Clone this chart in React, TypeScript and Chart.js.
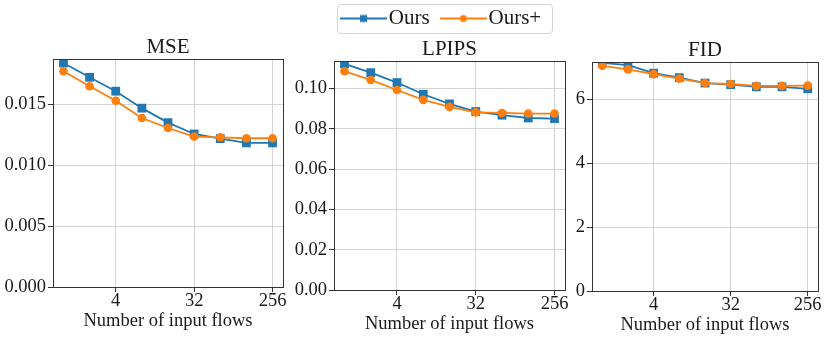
import React, { useEffect, useRef } from "react";
import { Chart, registerables } from "chart.js";

Chart.register(...registerables);

// ---------- data ----------
const flows = [1, 2, 4, 8, 16, 32, 64, 128, 256];
const xTickFlows = [4, 32, 256];
const seriesNames = ["Ours", "Ours+"];
const xLabel = "Number of input flows";

const mseOurs = [0.01837, 0.0172, 0.01606, 0.01467, 0.01348, 0.01255, 0.01217, 0.01182, 0.01182];
const mseOursPlus = [0.01769, 0.01647, 0.01527, 0.01386, 0.01304, 0.01234, 0.01228, 0.0122, 0.0122];
const mseTicks = [0, 0.005, 0.01, 0.015];

const lpipsOurs = [0.1123, 0.1079, 0.103, 0.0972, 0.0924, 0.0886, 0.0868, 0.0854, 0.0851];
const lpipsOursPlus = [0.1086, 0.1043, 0.0993, 0.0944, 0.0909, 0.0882, 0.0879, 0.0876, 0.0876];
const lpipsTicks = [0, 0.02, 0.04, 0.06, 0.08, 0.1];

const fidOurs = [7.15, 7.08, 6.83, 6.69, 6.52, 6.47, 6.4, 6.4, 6.34];
const fidOursPlus = [7.06, 6.95, 6.8, 6.66, 6.52, 6.49, 6.43, 6.43, 6.44];
const fidTicks = [0, 2, 4, 6];

// ---------- style ----------
const BLUE = "#1f77b4";
const ORANGE = "#ff7f0e";
const TEXT = "#1a1a1a";
const FRAME = "#333333";
const GRID = "#d3d3d3";
const FAMILY = "'Liberation Serif', 'Times New Roman', serif";

type PanelCfg = {
  title: string;
  ours: number[];
  plus: number[];
  ticks: number[];
  yMax: number;
  decimals: number;
  left: number;
  width: number;
  yAxisWidth: number;
  padRight: number;
  padTop: number;
  xAxisHeight: number;
  xTitlePad: number;
};

const panels: PanelCfg[] = [
  { title: "MSE", ours: mseOurs, plus: mseOursPlus, ticks: mseTicks, yMax: 0.0187, decimals: 3,
    left: 0, width: 295, yAxisWidth: 53, padRight: 12, padTop: 35, xAxisHeight: 53, xTitlePad: 9.6 },
  { title: "LPIPS", ours: lpipsOurs, plus: lpipsOursPlus, ticks: lpipsTicks, yMax: 0.1137, decimals: 2,
    left: 290, width: 285, yAxisWidth: 44, padRight: 10, padTop: 37, xAxisHeight: 50, xTitlePad: 6.6 },
  { title: "FID", ours: fidOurs, plus: fidOursPlus, ticks: fidTicks, yMax: 7.18, decimals: 0,
    left: 572, width: 258, yAxisWidth: 20, padRight: 12, padTop: 38, xAxisHeight: 49, xTitlePad: 5.6 },
];

const framePlugin = {
  id: "frame",
  afterDraw(chart: any) {
    const { ctx, chartArea: a } = chart;
    const l = Math.round(a.left + 0.5) - 0.5;
    const r = Math.round(a.right + 0.5) - 0.5;
    const t = Math.round(a.top + 0.5) - 0.5;
    const b = Math.round(a.bottom + 0.5) - 0.5;
    ctx.save();
    ctx.strokeStyle = FRAME;
    ctx.lineWidth = 1;
    ctx.strokeRect(l, t, r - l, b - t);
    ctx.restore();
  },
};

function Panel({ cfg }: { cfg: PanelCfg }) {
  const ref = useRef<HTMLCanvasElement>(null);
  useEffect(() => {
    const tickFont = { family: FAMILY, size: 18.5, lineHeight: 1 };
    const chart = new Chart(ref.current as HTMLCanvasElement, {
      type: "line",
      data: {
        datasets: [
          {
            label: seriesNames[0],
            data: flows.map((f, i) => ({ x: f, y: cfg.ours[i] })),
            borderColor: BLUE,
            backgroundColor: BLUE,
            pointBackgroundColor: BLUE,
            pointBorderColor: BLUE,
            pointStyle: "rect",
            pointRadius: 6.2,
            pointBorderWidth: 0,
            borderWidth: 1.8,
            tension: 0,
            order: 1,
            clip: 0,
          },
          {
            label: seriesNames[1],
            data: flows.map((f, i) => ({ x: f, y: cfg.plus[i] })),
            borderColor: ORANGE,
            backgroundColor: ORANGE,
            pointBackgroundColor: ORANGE,
            pointBorderColor: ORANGE,
            pointStyle: "circle",
            pointRadius: 4.3,
            pointBorderWidth: 0,
            borderWidth: 1.8,
            tension: 0,
            order: 0,
            clip: 0,
          },
        ] as any,
      },
      options: {
        animation: false,
        responsive: false,
        maintainAspectRatio: false,
        events: [],
        layout: { padding: { left: 0, right: cfg.padRight, top: cfg.padTop, bottom: 0 } },
        plugins: {
          legend: { display: false },
          tooltip: { enabled: false },
          title: {
            display: true,
            text: cfg.title,
            fullSize: false,
            padding: 0,
            color: TEXT,
            font: { family: FAMILY, size: 21, weight: "normal", lineHeight: "24px" } as any,
          },
        },
        scales: {
          x: {
            type: "logarithmic",
            min: Math.pow(2, -0.4),
            max: Math.pow(2, 8.4),
            bounds: "data",
            afterBuildTicks: (s: any) => {
              s.ticks = xTickFlows.map((v) => ({ value: v }));
            },
            afterFit: (s: any) => {
              s.height = cfg.xAxisHeight;
            },
            ticks: {
              callback: (v: any) => String(v),
              font: tickFont,
              color: TEXT,
              padding: 0,
              autoSkip: false,
              maxRotation: 0,
              minRotation: 0,
            },
            grid: { color: GRID, lineWidth: 1, tickLength: 5, tickColor: FRAME, tickWidth: 1, drawTicks: true },
            border: { display: false },
            title: {
              display: true,
              text: xLabel,
              color: TEXT,
              font: { family: FAMILY, size: 18.5, lineHeight: 1 },
              padding: { top: 0, bottom: cfg.xTitlePad },
            },
          } as any,
          y: {
            type: "linear",
            min: 0,
            max: cfg.yMax,
            bounds: "data",
            afterBuildTicks: (s: any) => {
              s.ticks = cfg.ticks.map((v) => ({ value: v }));
            },
            afterFit: (s: any) => {
              s.width = cfg.yAxisWidth;
            },
            ticks: {
              callback: (v: any) => Number(v).toFixed(cfg.decimals),
              font: tickFont,
              color: TEXT,
              padding: 2,
              autoSkip: false,
            },
            grid: { color: GRID, lineWidth: 1, tickLength: 5, tickColor: FRAME, tickWidth: 1, drawTicks: true },
            border: { display: false },
          } as any,
        },
      },
      plugins: [framePlugin],
    });
    return () => chart.destroy();
  }, [cfg]);
  return (
    <canvas
      ref={ref}
      width={cfg.width}
      height={340}
      style={{ position: "absolute", left: cfg.left, top: 0, width: cfg.width, height: 340 }}
    />
  );
}

function makeIcon(color: string, shape: "rect" | "circle"): HTMLCanvasElement {
  const c = document.createElement("canvas");
  c.width = 47;
  c.height = 12;
  const g = c.getContext("2d") as CanvasRenderingContext2D;
  g.strokeStyle = color;
  g.lineWidth = 1.8;
  g.beginPath();
  g.moveTo(0, 6);
  g.lineTo(47, 6);
  g.stroke();
  g.fillStyle = color;
  if (shape === "rect") {
    g.fillRect(20, 2.5, 7, 7);
  } else {
    g.beginPath();
    g.arc(23.5, 6, 3.6, 0, Math.PI * 2);
    g.fill();
  }
  return c;
}

function Legend() {
  const ref = useRef<HTMLCanvasElement>(null);
  useEffect(() => {
    const icons = [makeIcon(BLUE, "rect"), makeIcon(ORANGE, "circle")];
    const colors = [BLUE, ORANGE];
    const chart = new Chart(ref.current as HTMLCanvasElement, {
      type: "line",
      data: {
        datasets: seriesNames.map((n, i) => ({ label: n, data: [], borderColor: colors[i] })),
      },
      options: {
        animation: false,
        responsive: false,
        maintainAspectRatio: false,
        events: [],
        layout: { padding: 0 },
        scales: { x: { display: false }, y: { display: false } },
        plugins: {
          tooltip: { enabled: false },
          title: { display: false },
          legend: {
            display: true,
            position: "top",
            align: "center",
            labels: {
              usePointStyle: true,
              pointStyleWidth: 29.4,
              padding: 19,
              color: TEXT,
              font: { family: FAMILY, size: 21 },
              generateLabels: () =>
                seriesNames.map((n, i) => ({
                  text: n,
                  pointStyle: icons[i],
                  fillStyle: colors[i],
                  strokeStyle: colors[i],
                  lineWidth: 0,
                  hidden: false,
                  datasetIndex: i,
                  fontColor: TEXT,
                })) as any,
            },
          } as any,
        },
      },
    });
    return () => chart.destroy();
  }, []);
  return (
    <>
      <div
        style={{
          position: "absolute",
          left: 337,
          top: 4,
          width: 216,
          height: 30,
          boxSizing: "border-box",
          border: "1px solid #d4d4d4",
          borderRadius: 4,
          background: "white",
        }}
      />
      <canvas
        ref={ref}
        width={300}
        height={140}
        style={{ position: "absolute", left: 295, top: -11, width: 300, height: 140 }}
      />
    </>
  );
}

export default function App() {
  return (
    <div
      style={{
        position: "fixed",
        left: 0,
        top: 0,
        width: 830,
        height: 340,
        background: "white",
        overflow: "hidden",
      }}
    >
      {panels.map((p) => (
        <Panel key={p.title} cfg={p} />
      ))}
      <Legend />
    </div>
  );
}
